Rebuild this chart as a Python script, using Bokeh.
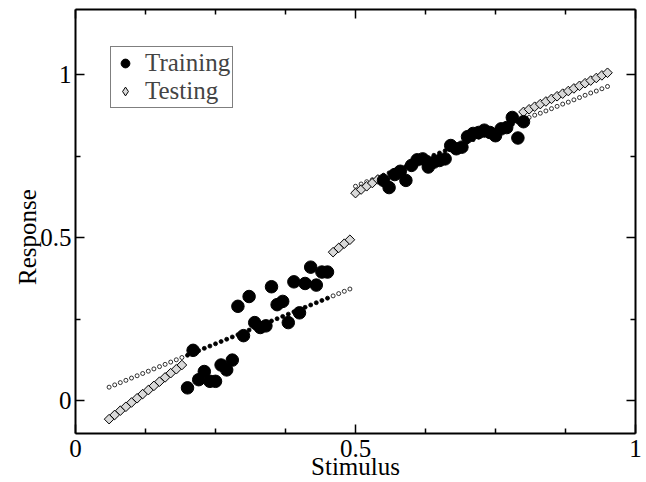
import math
from bokeh.plotting import figure
from bokeh.models import Range1d, FixedTicker, LinearAxis, Legend, LegendItem
from bokeh.embed import file_html
from bokeh.resources import INLINE

# ---- data ----
train_x_low = [0.20, 0.21, 0.22, 0.23, 0.24, 0.25, 0.26, 0.27, 0.28, 0.29, 0.30, 0.31, 0.32,
               0.33, 0.34, 0.35, 0.36, 0.37, 0.38, 0.39, 0.40, 0.41, 0.42, 0.43, 0.44, 0.45]
train_y_low = [0.040, 0.155, 0.065, 0.090, 0.060, 0.060, 0.110, 0.095, 0.125, 0.290, 0.200, 0.320, 0.240,
               0.225, 0.230, 0.350, 0.295, 0.305, 0.240, 0.365, 0.270, 0.360, 0.410, 0.355, 0.395, 0.395]
train_x_high = [0.55, 0.56, 0.57, 0.58, 0.59, 0.60, 0.61, 0.62, 0.63, 0.64, 0.65, 0.66, 0.67,
                0.68, 0.69, 0.70, 0.71, 0.72, 0.73, 0.74, 0.75, 0.76, 0.77, 0.78, 0.79, 0.80]
train_y_high = [0.676, 0.654, 0.694, 0.704, 0.676, 0.722, 0.739, 0.742, 0.717, 0.732, 0.737, 0.742, 0.783,
                0.773, 0.778, 0.810, 0.820, 0.823, 0.830, 0.823, 0.813, 0.834, 0.838, 0.869, 0.806, 0.856]

test_x_a = [0.06, 0.07, 0.08, 0.09, 0.10, 0.11, 0.12, 0.13, 0.14, 0.15, 0.16, 0.17, 0.18, 0.19]
test_y_a = [-0.056, -0.043, -0.030, -0.018, -0.005, 0.008, 0.021, 0.033, 0.046, 0.059, 0.072, 0.085, 0.097, 0.110]
test_x_b = [0.46, 0.47, 0.48, 0.49]
test_y_b = [0.456, 0.469, 0.482, 0.494]
test_x_c = [0.50, 0.51, 0.52, 0.53, 0.54]
test_y_c = [0.637, 0.648, 0.658, 0.668, 0.679]
test_x_d = [0.80, 0.81, 0.82, 0.83, 0.84, 0.85, 0.86, 0.87, 0.88, 0.89, 0.90, 0.91, 0.92, 0.93, 0.94, 0.95]
test_y_d = [0.886, 0.894, 0.902, 0.910, 0.918, 0.926, 0.934, 0.942, 0.950, 0.958, 0.966, 0.974, 0.982, 0.990, 0.998, 1.006]

fit_x_low = [0.06, 0.07, 0.08, 0.09, 0.10, 0.11, 0.12, 0.13, 0.14, 0.15, 0.16, 0.17, 0.18, 0.19, 0.20,
             0.21, 0.22, 0.23, 0.24, 0.25, 0.26, 0.27, 0.28, 0.29, 0.30, 0.31, 0.32, 0.33, 0.34, 0.35,
             0.36, 0.37, 0.38, 0.39, 0.40, 0.41, 0.42, 0.43, 0.44, 0.45, 0.46, 0.47, 0.48, 0.49]
fit_y_low = [0.042, 0.049, 0.056, 0.063, 0.070, 0.077, 0.084, 0.091, 0.098, 0.105,
             0.112, 0.119, 0.126, 0.133, 0.140, 0.147, 0.154, 0.161, 0.168, 0.175,
             0.182, 0.189, 0.196, 0.203, 0.210, 0.217, 0.224, 0.231, 0.238, 0.245,
             0.252, 0.259, 0.266, 0.273, 0.280, 0.287, 0.294, 0.301, 0.308, 0.315,
             0.322, 0.329, 0.336, 0.343]
fit_x_high = [0.50, 0.51, 0.52, 0.53, 0.54, 0.55, 0.56, 0.57, 0.58, 0.59, 0.60, 0.61, 0.62, 0.63, 0.64,
              0.65, 0.66, 0.67, 0.68, 0.69, 0.70, 0.71, 0.72, 0.73, 0.74, 0.75, 0.76, 0.77, 0.78, 0.79,
              0.80, 0.81, 0.82, 0.83, 0.84, 0.85, 0.86, 0.87, 0.88, 0.89, 0.90, 0.91, 0.92, 0.93, 0.94, 0.95]
fit_y_high = [0.658, 0.665, 0.672, 0.678, 0.685, 0.692, 0.699, 0.706, 0.712, 0.719,
              0.726, 0.733, 0.740, 0.746, 0.753, 0.760, 0.767, 0.774, 0.780, 0.787,
              0.794, 0.801, 0.808, 0.814, 0.821, 0.828, 0.835, 0.842, 0.848, 0.855,
              0.862, 0.869, 0.876, 0.882, 0.889, 0.896, 0.903, 0.910, 0.916, 0.923,
              0.930, 0.937, 0.944, 0.950, 0.957, 0.964]

x_ticks = [0, 0.5, 1]
x_minor = [0.125, 0.25, 0.375, 0.625, 0.75, 0.875]
y_ticks = [0, 0.5, 1]
y_minor = [0.25, 0.75]
tick_labels = {0: "0", 0.5: "0.5", 1: "1"}
x_title = "Stimulus"
y_title = "Response"

FONT = "Liberation Serif"
FS = "25px"

p = figure(frame_width=560, frame_height=424, output_backend="svg", toolbar_location=None,
           x_range=Range1d(0, 1), y_range=Range1d(-0.1, 1.2),
           min_border_left=75, min_border_right=11, min_border_top=9, min_border_bottom=49)
p.xgrid.visible = False
p.ygrid.visible = False
p.outline_line_color = None
p.background_fill_color = "white"

# model fit dots (filled inside the training range, open elsewhere)
train_set = set(round(v, 2) for v in train_x_low + train_x_high)
fx = fit_x_low + fit_x_high
fy = fit_y_low + fit_y_high
fill = ["black" if round(v, 2) in train_set else "white" for v in fx]
p.scatter(x=fx, y=fy, size=4, marker="circle", fill_color=fill, line_color="black", line_width=0.8)

# testing diamonds
tx = test_x_a + test_x_b + test_x_c + test_x_d
ty = test_y_a + test_y_b + test_y_c + test_y_d
p.scatter(x=tx, y=ty, marker="square", angle=math.pi / 4, size=6.8,
          fill_color="#d9d9d9", line_color="black", line_width=1)

# training circles
r_train = p.scatter(x=train_x_low + train_x_high, y=train_y_low + train_y_high, marker="circle",
                    size=12.5, fill_color="black", line_color="black")

# legend-only renderer with an upright diamond marker
r_test_leg = p.scatter(x=tx[:1], y=ty[:1], marker="diamond", size=9,
                       fill_color="#d9d9d9", line_color="black", line_width=1, visible=False)

legend = Legend(items=[LegendItem(label="Training", renderers=[r_train]),
                       LegendItem(label="Testing", renderers=[r_test_leg])],
                location=(35, 325), label_text_font=FONT, label_text_font_size=FS,
                border_line_color="black", border_line_width=1, padding=2, spacing=0,
                glyph_width=24, glyph_height=22, label_standoff=8, margin=0,
                background_fill_color="white", background_fill_alpha=1)
p.add_layout(legend, "center")


def style(ax, ticks, minor, labels):
    ax.ticker = FixedTicker(ticks=ticks, minor_ticks=minor)
    ax.major_tick_in = 9
    ax.major_tick_out = 0
    ax.minor_tick_in = 5
    ax.minor_tick_out = 0
    ax.axis_line_width = 2
    ax.axis_line_color = "black"
    ax.major_tick_line_width = 1.5
    ax.minor_tick_line_width = 1.5
    ax.major_label_overrides = tick_labels
    ax.major_label_text_font = FONT
    if labels:
        ax.major_label_text_font_size = FS
        ax.major_label_text_color = "black"
    else:
        ax.major_label_text_font_size = "0px"
        ax.major_label_standoff = 0
    ax.axis_label_text_font = FONT
    ax.axis_label_text_font_size = FS
    ax.axis_label_text_font_style = "normal"
    ax.axis_label_text_color = "black"


style(p.xaxis[0], x_ticks, x_minor, True)
p.xaxis[0].axis_label = x_title
p.xaxis[0].major_label_standoff = 6
p.xaxis[0].axis_label_standoff = -7
style(p.yaxis[0], y_ticks, y_minor, True)
p.yaxis[0].major_label_standoff = 4
# trailing no-break spaces shift the rotated title down to sit beside y = 0.5
p.yaxis[0].axis_label = y_title + "\u00a0" * 5
p.yaxis[0].axis_label_standoff = -4

top = LinearAxis()
style(top, x_ticks, x_minor, False)
p.add_layout(top, "above")
right = LinearAxis()
style(right, y_ticks, y_minor, False)
p.add_layout(right, "right")

open("out.html", "w").write(file_html(p, INLINE))
